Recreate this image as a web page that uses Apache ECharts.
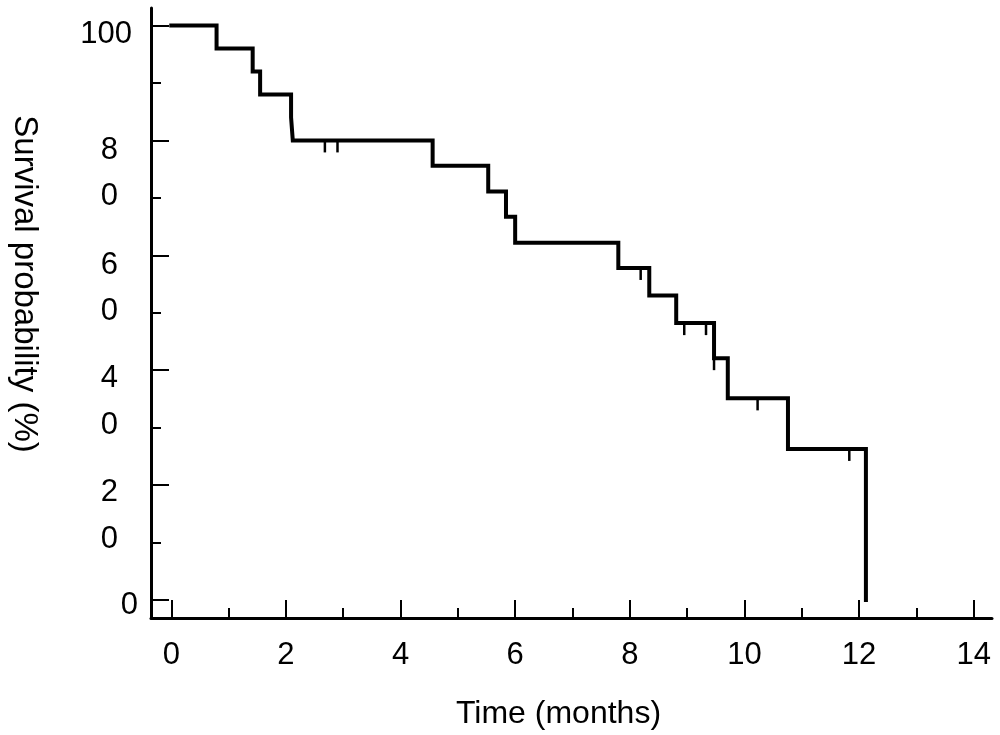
<!DOCTYPE html>
<html>
<head>
<meta charset="utf-8">
<script src="https://cdn.jsdelivr.net/npm/echarts@6/dist/echarts.min.js"></script>
<style>
html,body{margin:0;padding:0;background:#fff;}
#chart{width:1000px;height:735px;}
</style>
</head>
<body>
<div id="chart"></div>
<script>
// Kaplan-Meier step points (time in months, survival %)
const eventTimes = [0, 0.79, 1.42, 1.55, 2.09, 2.12, 4.56, 5.53, 5.84, 6.00, 7.80, 8.34, 8.81, 9.47, 9.71, 10.76, 12.12];
const survival   = [100, 96, 92, 88, 84, 80, 75.6, 71.1, 66.7, 62.2, 57.8, 53.0, 48.2, 42.1, 35.1, 26.3, 0];
// censored observations
const censorTimes    = [2.68, 2.90, 8.19, 8.95, 9.33, 9.47, 10.23, 11.83];
const censorSurvival = [80, 80, 57.8, 48.2, 48.2, 42.1, 35.1, 26.3];
// axis ticks
const xMajorTicks = [0, 2, 4, 6, 8, 10, 12, 14];
const xMinorTicks = [1, 3, 5, 7, 9, 11, 13];
const yMajorTicks = [0, 20, 40, 60, 80, 100];
const yMinorTicks = [10, 30, 50, 70, 90];
// y tick labels as printed in the figure (value position, text)
const yLabelValues = [98.5, 78.2, 70.2, 58.3, 50.3, 38.5, 30.4, 18.7, 10.6, -1.0];
const yLabelTexts  = ['100', '8', '0', '6', '0', '4', '0', '2', '0', '0'];

const FONT = 'Liberation Sans, Arial, Helvetica, sans-serif';
const xMin = -0.354, xMax = 14.32, yMin = -3.13, yMax = 103.05;

const chart = echarts.init(document.getElementById('chart'), null, {renderer: 'canvas'});

const kmData = eventTimes.map((t, i) => [t, survival[i]]);
const censorData = censorTimes.map((t, i) => [t, censorSurvival[i]]);

function yLabelFmt(value, index) {
  let best = 0, bd = Infinity;
  yLabelValues.forEach((v, i) => { const d = Math.abs(v - value); if (d < bd) { bd = d; best = i; } });
  const txt = yLabelTexts[best];
  if (best === yLabelTexts.length - 1) return '{z|' + txt + '}';
  if (txt.length === 3) return '{h|' + txt + '}';
  return '{d|' + txt + '}';
}

const labelStyle = {fontFamily: FONT, fontSize: 31, color: '#000'};

chart.setOption({
  animation: false,
  backgroundColor: '#fff',
  grid: {left: 151, right: 8, top: 8, bottom: 117, containLabel: false},
  xAxis: [{
    type: 'value', min: xMin, max: xMax, position: 'bottom',
    axisLine: {show: true, onZero: false, lineStyle: {color: '#000', width: 3}},
    axisTick: {show: true, inside: true, length: 18, customValues: xMajorTicks, lineStyle: {color: '#000', width: 2}},
    axisLabel: Object.assign({show: true, margin: 22, customValues: xMajorTicks}, labelStyle),
    splitLine: {show: false},
    name: 'Time (months)', nameLocation: 'middle', nameGap: 80,
    nameTextStyle: {fontFamily: FONT, fontSize: 32, color: '#000', padding: [0, 26, 0, 0]}
  }, {
    type: 'value', min: xMin, max: xMax, position: 'bottom',
    axisLine: {show: false, onZero: false},
    axisTick: {show: true, inside: true, length: 10, customValues: xMinorTicks, lineStyle: {color: '#000', width: 2}},
    axisLabel: {show: false},
    splitLine: {show: false}
  }],
  yAxis: [{
    type: 'value', min: yMin, max: yMax, position: 'left',
    axisLine: {show: true, onZero: false, lineStyle: {color: '#000', width: 3}},
    axisTick: {show: true, inside: true, length: 18, customValues: yMajorTicks, lineStyle: {color: '#000', width: 2}},
    axisLabel: Object.assign({show: true, margin: 13, customValues: yLabelValues, formatter: yLabelFmt,
      rich: {
        h: {fontFamily: FONT, fontSize: 31, color: '#000', padding: [0, 6, 0, 0]},
        d: {fontFamily: FONT, fontSize: 31, color: '#000', padding: [0, 20, 0, 0]},
        z: {fontFamily: FONT, fontSize: 31, color: '#000'}
      }}, labelStyle),
    splitLine: {show: false},
    name: 'Survival probability (%)', nameLocation: 'middle', nameGap: 110, nameRotate: -90,
    nameTextStyle: {fontFamily: FONT, fontSize: 33, color: '#000', padding: [0, 58, 0, 0]}
  }, {
    type: 'value', min: yMin, max: yMax, position: 'left',
    axisLine: {show: false, onZero: false},
    axisTick: {show: true, inside: true, length: 10, customValues: yMinorTicks, lineStyle: {color: '#000', width: 2}},
    axisLabel: {show: false},
    splitLine: {show: false}
  }],
  series: [{
    type: 'line', xAxisIndex: 0, yAxisIndex: 0,
    step: 'end', data: kmData, showSymbol: false, symbol: 'none',
    lineStyle: {color: '#000', width: 4, cap: 'square', join: 'miter'},
    z: 3
  }, {
    type: 'scatter', xAxisIndex: 0, yAxisIndex: 0,
    data: censorData, symbol: 'rect', symbolSize: [2.5, 12], symbolOffset: [0, 6],
    itemStyle: {color: '#000', opacity: 1},
    z: 4
  }]
});
</script>
</body>
</html>
